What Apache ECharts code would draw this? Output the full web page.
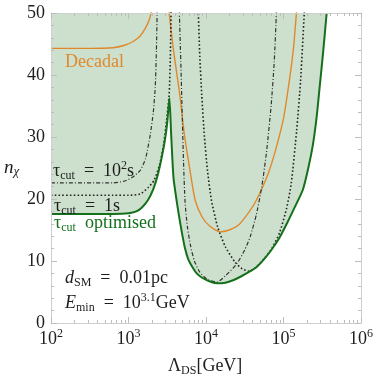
<!DOCTYPE html>
<html>
<head>
<meta charset="utf-8">
<script src="https://cdn.jsdelivr.net/npm/echarts@6/dist/echarts.min.js"></script>
<style>
  html, body { margin: 0; padding: 0; background: #fff; }
  #chart { width: 377px; height: 382px; }
</style>
</head>
<body>
<div id="chart"></div>
<script>
// x = Lambda_DS [GeV], y = n_chi

// tau_cut optimised (lower envelope, area above it is shaded)
const optimisedX = [100, 316, 631, 1000, 1259, 1479, 1778, 2089, 2399, 2692, 2951, 3162, 3373,
  3548, 3802, 4169, 4467, 4898, 5370, 5888, 6761, 7586, 8913, 11220, 14125, 17783, 22387,
  28184, 35481, 44668, 56234, 70795, 89125, 112202, 141254, 177828, 208930, 239883, 269153,
  295121, 323594, 360579]
const optimisedY = [17.6, 17.6, 17.6, 17.7, 18.0, 18.6, 19.8, 21.6, 24.0, 26.8, 29.5, 32.3, 36.3,
  30.5, 23.5, 19.8, 17.4, 14.5, 12.0, 10.3, 8.9, 8.0, 7.3, 6.7, 6.4, 6.5, 6.9,
  7.5, 8.2, 9.0, 10.3, 11.9, 13.8, 16.2, 18.8, 21.5, 25.0, 28.8, 33.5,
  38.5, 43.5, 50]

// Decadal
const decadalLeftX = [100, 316, 631, 891, 1148, 1413, 1660, 1862, 2042]
const decadalLeftY = [44.3, 44.3, 44.4, 44.8, 45.4, 46.3, 47.6, 49.0, 51]
const decadalRightX = [3311, 3802, 4571, 5248, 6310, 7244, 8913, 11220, 15136, 19953, 26303,
  35481, 44668, 63096, 79433, 100000, 120226, 134896, 147911]
const decadalRightY = [50.5, 44, 37, 30.5, 24.1, 19.8, 17.1, 15.6, 14.7, 15.0, 15.8,
  17.8, 19.8, 24, 28, 33, 39.5, 44.5, 50.5]

// tau_cut = 10^2 s
const tau100LeftX = [100, 631, 891, 1122, 1413, 1660, 1905, 2089, 2213, 2291, 2344]
const tau100LeftY = [22.6, 22.6, 22.9, 23.5, 24.6, 26.5, 30.3, 34, 38, 44, 50.5]
const tau100RightX = [4519, 4732, 4898, 5129, 5370, 5754, 6310, 7079, 8318, 10471, 13804,
  17783, 25119, 31623, 37154, 44668, 52481, 60256, 69183, 75858, 81283]
const tau100RightY = [50.5, 42, 35, 26, 19.5, 15.5, 12.5, 10.0, 8.2, 7.0, 6.6,
  7.6, 9.6, 11.8, 13.9, 17.5, 22.0, 27.5, 35, 42, 50.5]

// tau_cut = 1 s
const tau1LeftX = [100, 631, 1000, 1413, 1778, 2138, 2512, 2818, 3090, 3350, 3467, 3548]
const tau1LeftY = [20.6, 20.6, 20.6, 20.8, 21.8, 23.0, 25.5, 28.5, 32.5, 37, 43, 50.5]
const tau1RightX = [7943, 8318, 8810, 9550, 10471, 11749, 14125, 17783, 23714, 29512, 36308,
  44668, 56234, 70795, 89125, 109648, 125893, 147911, 165959, 186209]
const tau1RightY = [50.5, 43, 36.8, 30, 24.5, 19.8, 15.5, 12.3, 9.8, 8.7, 8.35,
  9.05, 10.35, 12.0, 14.6, 18.5, 22.5, 31.1, 39, 50.5]

// 2..9 x 10^n positions for the small log ticks
const minorTicks = []
for (let p = 2; p < 6; p++) {
  for (let m = 2; m < 10; m++) minorTicks.push(m * Math.pow(10, p))
}

function pairs (xs, ys) {
  return xs.map((x, i) => [x, ys[i]])
}

const SERIF = '"Liberation Serif", "DejaVu Serif", serif'
const GREEN = '#14701a'
const ORANGE = '#e0892c'
const INK = '#1e1e1e'
const FRAME = '#cfcfcf'
const TICK = '#bdbdbd'

function curve (xs, ys, color, width, type) {
  return {
    type: 'line',
    data: pairs(xs, ys),
    showSymbol: false,
    smooth: 0.2,
    silent: true,
    z: 3,
    lineStyle: { color: color, width: width, type: type, cap: 'butt' }
  }
}

function logAxis (pos, major) {
  return {
    type: 'log',
    logBase: 10,
    min: 100,
    max: 1e6,
    position: pos,
    zlevel: 1,
    axisLine: { show: major, onZero: false, lineStyle: { color: FRAME, width: 1 } },
    axisTick: major
      ? { show: true, inside: true, length: 6, lineStyle: { color: TICK } }
      : { show: true, inside: true, length: 3, customValues: minorTicks, lineStyle: { color: TICK } },
    axisLabel: {
      show: major && pos === 'bottom',
      margin: 5,
      formatter: v => '{b|10}{s|' + Math.round(Math.log10(v)) + '}',
      rich: {
        b: { fontFamily: SERIF, fontSize: 18, color: INK, lineHeight: 22 },
        s: { fontFamily: SERIF, fontSize: 12, color: INK, verticalAlign: 'top', lineHeight: 16 }
      }
    },
    splitLine: { show: false },
    minorSplitLine: { show: false }
  }
}

function nAxis (pos) {
  return {
    type: 'value',
    min: 0,
    max: 50,
    interval: 10,
    position: pos,
    zlevel: 1,
    axisLine: { show: true, onZero: false, lineStyle: { color: FRAME, width: 1 } },
    axisTick: { show: true, inside: true, length: 6, lineStyle: { color: TICK } },
    minorTick: { show: true, splitNumber: 5, length: 3, lineStyle: { color: TICK } },
    axisLabel: { show: pos === 'left', fontFamily: SERIF, fontSize: 18, color: INK, margin: 6 },
    splitLine: { show: false }
  }
}

// zrender rich tokens for the annotations (graphic elements use fill, not color)
function tok (fill, size, extra) {
  return Object.assign({ fontFamily: SERIF, fontSize: size, fill: fill }, extra || {})
}
function richSet (fill) {
  return {
    a: tok(fill, 18, { lineHeight: 22 }),
    i: tok(fill, 18, { lineHeight: 22, fontStyle: 'italic' }),
    d: tok(fill, 12, { lineHeight: 15, verticalAlign: 'bottom' }),
    u: tok(fill, 12, { lineHeight: 15, verticalAlign: 'top' })
  }
}
function label (left, top, text, fill) {
  return { type: 'text', left: left, top: top, z: 20, silent: true, style: { text: text, rich: richSet(fill) } }
}

const option = {
  animation: false,
  grid: { left: 51, right: 16, top: 13, bottom: 59 },
  xAxis: [logAxis('bottom', true), logAxis('bottom', false), logAxis('top', true), logAxis('top', false)],
  yAxis: [nAxis('left'), nAxis('right')],
  series: [
    {
      // shaded region above the optimised curve
      type: 'line',
      data: pairs(optimisedX, optimisedY),
      showSymbol: false,
      smooth: 0.2,
      silent: true,
      z: 1,
      lineStyle: { width: 0 },
      areaStyle: { color: '#cde0cd', opacity: 1, origin: 'end' }
    },
    curve(decadalLeftX, decadalLeftY, ORANGE, 1.4, 'solid'),
    curve(decadalRightX, decadalRightY, ORANGE, 1.4, 'solid'),
    curve(tau100LeftX, tau100LeftY, '#333', 1.2, [4, 2, 1, 2]),
    curve(tau100RightX, tau100RightY, '#333', 1.2, [4, 2, 1, 2]),
    curve(tau1LeftX, tau1LeftY, '#222', 1.6, [1.6, 2.2]),
    curve(tau1RightX, tau1RightY, '#222', 1.6, [1.6, 2.2]),
    Object.assign(curve(optimisedX, optimisedY, GREEN, 2, 'solid'), { z: 4 })
  ],
  graphic: [
    label(65, 53, '{a|Decadal}', ORANGE),
    label(53, 160, '{a|τ}{d|cut}{a|  =  10}{u|2}{a|s}', INK),
    label(54, 197, '{a|τ}{d|cut}{a|  =  1s}', INK),
    label(54, 214, '{a|τ}{d|cut}{a|  optimised}', GREEN),
    label(65, 269, '{i|d}{d|SM}{a|  =  0.01pc}', INK),
    label(65, 292, '{i|E}{d|min}{a|  =  10}{u|3.1}{a|GeV}', INK),
    {
      type: 'text', left: 4, top: 158, z: 20,
      style: {
        text: '{i|n}{d|χ}',
        rich: {
          i: tok(INK, 19, { fontStyle: 'italic', lineHeight: 22 }),
          d: tok(INK, 13, { fontStyle: 'italic', lineHeight: 16, verticalAlign: 'bottom' })
        }
      }
    },
    {
      type: 'text', left: 168, top: 357, z: 20,
      style: {
        text: '{a|Λ}{d|DS}{a|[GeV]}',
        rich: {
          a: tok(INK, 18, { lineHeight: 22 }),
          d: tok(INK, 12, { lineHeight: 16, verticalAlign: 'bottom' })
        }
      }
    }
  ]
}

const myChart = echarts.init(document.getElementById('chart'), null, { renderer: 'canvas' })
myChart.setOption(option)
</script>
</body>
</html>
